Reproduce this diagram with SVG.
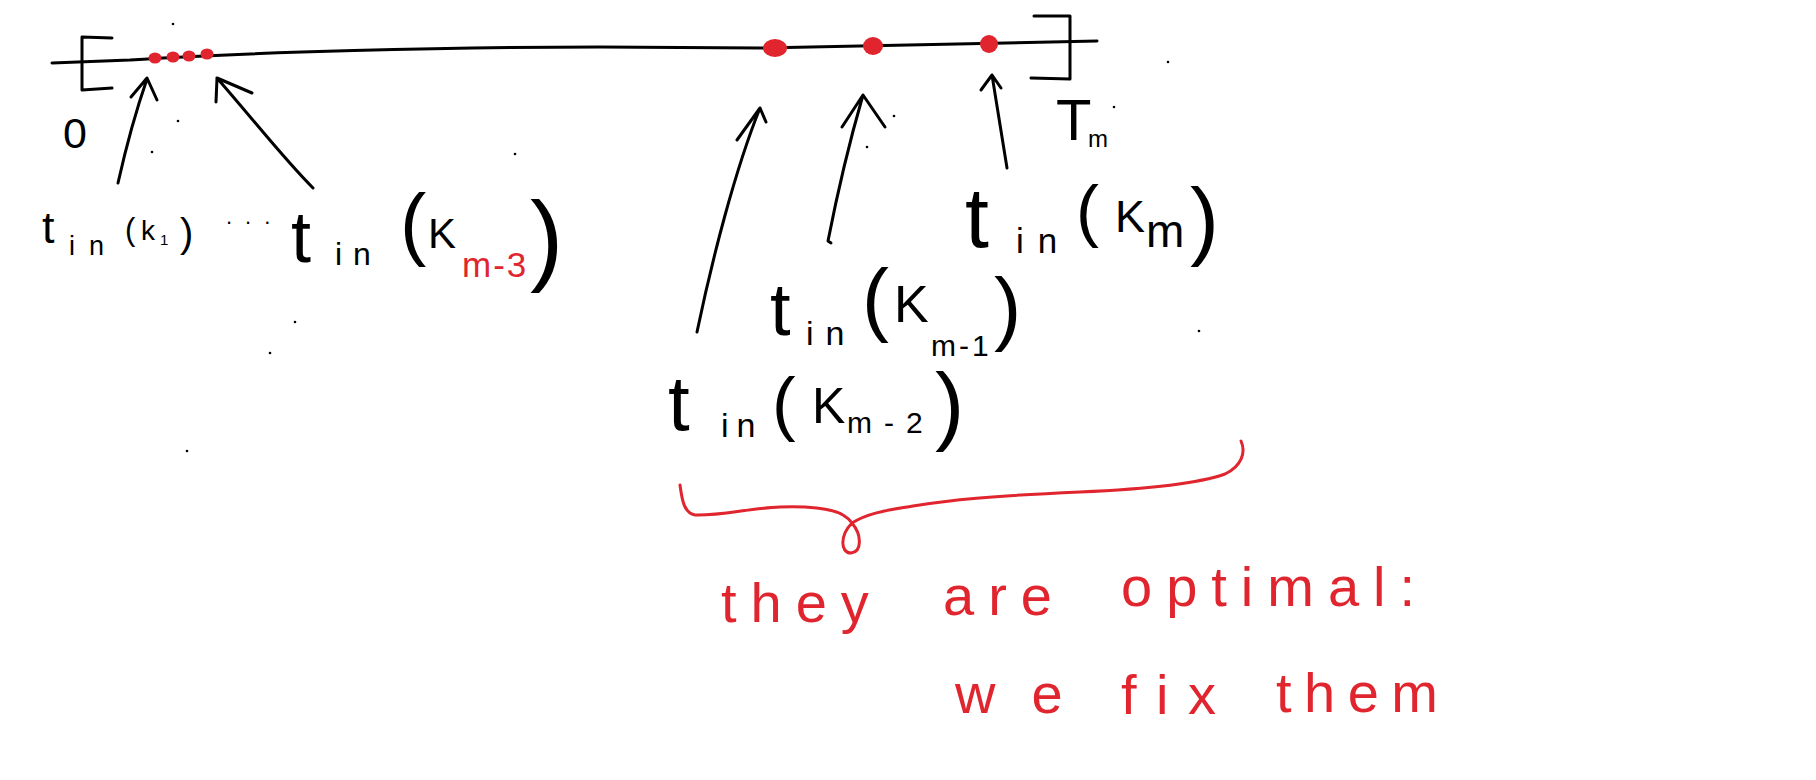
<svg xmlns="http://www.w3.org/2000/svg" width="1816" height="780" viewBox="0 0 1816 780">
<style>
.ink{fill:none;stroke:#000;stroke-width:3;stroke-linecap:round;stroke-linejoin:round}
.redink{fill:none;stroke:#e0252e;stroke-width:3;stroke-linecap:round;stroke-linejoin:round}
.dot{fill:#e0252e}
.speck{fill:#000}
.lbl{font-family:"Liberation Sans",Arial,sans-serif;fill:#000}
.red{fill:#e0252e}
.note{font-family:"Liberation Sans",Arial,sans-serif;fill:#e0252e}
</style>
<rect width="1816" height="780" fill="#fff"/>

<g id="axis">
  <path class="ink" d="M52,63 L130,60 C250,52 450,47 600,47 L760,48 C900,46 1000,42 1097,41"/>
  <path class="ink" d="M112,38 L82,37 L82,90 L112,88"/>
  <path class="ink" d="M1034,16 L1070,16 L1070,79 L1031,78"/>
  <ellipse class="dot" cx="155" cy="58" rx="6.5" ry="5.5"/>
  <ellipse class="dot" cx="173" cy="57" rx="6.5" ry="5.5"/>
  <ellipse class="dot" cx="189" cy="56" rx="6.5" ry="5.5"/>
  <ellipse class="dot" cx="207" cy="54" rx="6.5" ry="5.5"/>
  <ellipse class="dot" cx="775" cy="48" rx="12" ry="9"/>
  <ellipse class="dot" cx="873" cy="46" rx="10" ry="9"/>
  <ellipse class="dot" cx="989" cy="44" rx="9" ry="9"/>
</g>

<g id="label-0">
  <text class="lbl" x="63" y="148" font-size="43">0</text>
</g>
<g id="label-Tm">
  <text class="lbl"><tspan x="1056" y="140" font-size="58">T</tspan><tspan x="1088" y="147" font-size="24">m</tspan></text>
</g>

<g id="node-k1">
  <text class="lbl"><tspan x="42" y="243" font-size="45">t</tspan><tspan x="69" y="255" font-size="27" letter-spacing="14">in</tspan><tspan x="125" y="240" font-size="31">(</tspan><tspan x="141" y="240" font-size="28">k</tspan><tspan x="160" y="245" font-size="15">1</tspan><tspan x="180" y="247" font-size="40">)</tspan></text>
</g>
<g id="ellipsis">
  <text class="lbl" x="226" y="224" font-size="22" letter-spacing="13">...</text>
</g>
<g id="node-km3">
  <text class="lbl"><tspan x="291" y="262" font-size="72">t</tspan><tspan x="335" y="265" font-size="32" letter-spacing="11">in</tspan><tspan x="400" y="250" font-size="79">(</tspan><tspan x="428" y="248" font-size="42">K</tspan><tspan class="red" x="462" y="277" font-size="35" letter-spacing="2">m-3</tspan><tspan x="530" y="272" font-size="100">)</tspan></text>
</g>
<g id="node-km2">
  <text class="lbl"><tspan x="668" y="430" font-size="78">t</tspan><tspan x="721" y="437" font-size="34" letter-spacing="8">in</tspan><tspan x="772" y="427" font-size="71">(</tspan><tspan x="812" y="423" font-size="50">K</tspan><tspan x="847" y="433" font-size="30" letter-spacing="12">m-2</tspan><tspan x="935" y="434" font-size="88">)</tspan></text>
</g>
<g id="node-km1">
  <text class="lbl"><tspan x="770" y="335" font-size="74">t</tspan><tspan x="806" y="345" font-size="34" letter-spacing="12">in</tspan><tspan x="862" y="326" font-size="81">(</tspan><tspan x="894" y="322" font-size="52">K</tspan><tspan x="931" y="356" font-size="30" letter-spacing="3">m-1</tspan><tspan x="994" y="335" font-size="82">)</tspan></text>
</g>
<g id="node-km">
  <text class="lbl"><tspan x="965" y="247" font-size="86">t</tspan><tspan x="1016" y="253" font-size="35" letter-spacing="14">in</tspan><tspan x="1076" y="234" font-size="69">(</tspan><tspan x="1115" y="232" font-size="45">K</tspan><tspan x="1146" y="247" font-size="46">m</tspan><tspan x="1190" y="249" font-size="87">)</tspan></text>
</g>

<g id="connectors">
  <path class="ink" d="M118,183 Q131,125 147,79 M131,97 L147,78 L157,100"/>
  <path class="ink" d="M313,188 C285,160 262,130 217,78 M216,102 L217,78 L252,93"/>
  <path class="ink" d="M697,332 C712,260 735,170 760,108 M737,140 L760,108 L766,122"/>
  <path class="ink" d="M831,243 L828,241 C836,200 850,140 863,95 M842,127 L863,95 L885,127"/>
  <path class="ink" d="M1007,168 L992,75 M981,90 L992,75 L1001,88"/>
</g>

<g id="brace">
  <path class="redink" d="M680,485 C682,500 684,513 695,515 C720,516 750,508 780,507 C805,506 832,508 843,515 C848,518 850,520 852,523 C862,535 862,552 851,553 C840,553 840,535 852,523 C870,512 890,510 913,506 C950,500 990,496 1080,492 C1150,489 1200,483 1225,474 C1242,466 1246,452 1241,441"/>
</g>

<g id="note">
  <text class="note" font-size="56" letter-spacing="14"><tspan x="721" y="622">they</tspan> <tspan x="943" y="615">are</tspan> <tspan x="1121" y="606">optimal:</tspan></text>
  <text class="note" font-size="56"><tspan x="955" y="713" letter-spacing="36">we</tspan> <tspan x="1121" y="714" letter-spacing="19.5">fix</tspan> <tspan x="1276" y="712" letter-spacing="12.5">them</tspan></text>
</g>

<g id="specks">
  <circle class="speck" cx="173" cy="24" r="1.3"/>
  <circle class="speck" cx="178" cy="121" r="1.3"/>
  <circle class="speck" cx="152" cy="152" r="1.3"/>
  <circle class="speck" cx="515" cy="154" r="1.3"/>
  <circle class="speck" cx="295" cy="322" r="1.3"/>
  <circle class="speck" cx="270" cy="353" r="1.3"/>
  <circle class="speck" cx="187" cy="451" r="1.3"/>
  <circle class="speck" cx="1168" cy="62" r="1.3"/>
  <circle class="speck" cx="894" cy="116" r="1.3"/>
  <circle class="speck" cx="867" cy="147" r="1.3"/>
  <circle class="speck" cx="1199" cy="331" r="1.3"/>
  <circle class="speck" cx="1114" cy="107" r="1.3"/>
</g>
</svg>
